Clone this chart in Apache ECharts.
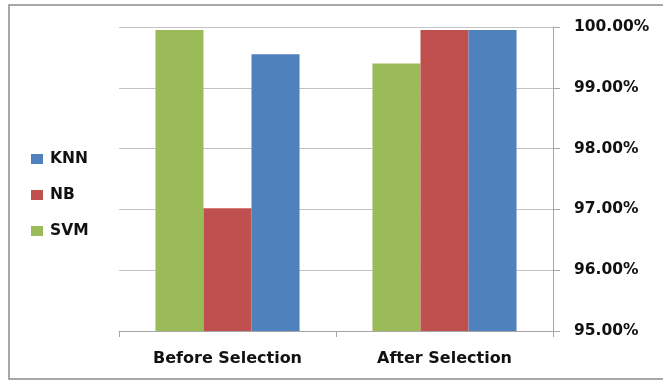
<!DOCTYPE html>
<html>
<head>
<meta charset="utf-8">
<script src="https://cdn.jsdelivr.net/npm/echarts@6/dist/echarts.min.js"></script>
<style>
  html, body { margin: 0; padding: 0; background: #ffffff; }
  #chart { width: 663px; height: 380px; }
</style>
</head>
<body>
<div id="chart"></div>
<script>
// Classification accuracy (%) before and after feature selection
const categories = ['Before Selection', 'After Selection'];
const svmValues = [99.95, 99.40];
const nbValues = [97.02, 99.95];
const knnValues = [99.55, 99.95];
const legendOrder = ['KNN', 'NB', 'SVM'];
const yTicks = { min: 95, max: 100, step: 1 };

const FONT = 'DejaVu Sans';
const chart = echarts.init(document.getElementById('chart'), null, { renderer: 'canvas' });

const barSeries = (name, data, color) => ({
  name: name,
  type: 'bar',
  data: data,
  barGap: '0%',
  barCategoryGap: '33.6%',
  itemStyle: { color: color },
  emphasis: { disabled: true },
  animation: false
});

chart.setOption({
  animation: false,
  backgroundColor: '#ffffff',
  graphic: [{
    type: 'rect',
    shape: { x: 9, y: 5, width: 720, height: 374 },
    style: { fill: 'none', stroke: '#8c8c8c', lineWidth: 1.5 },
    silent: true
  }],
  grid: { left: 119, right: 110, top: 27, bottom: 49, containLabel: false },
  legend: {
    data: legendOrder,
    orient: 'vertical',
    left: 31,
    top: 151,
    padding: 0,
    itemWidth: 12,
    itemHeight: 10,
    itemGap: 20,
    icon: 'rect',
    selectedMode: false,
    textStyle: { fontFamily: FONT, fontWeight: 'bold', fontSize: 15.5, lineHeight: 15, color: '#111111', padding: [0, 0, 0, 2] }
  },
  xAxis: {
    type: 'category',
    data: categories,
    boundaryGap: true,
    axisLine: { show: true, lineStyle: { color: '#a6a6a6', width: 1 } },
    axisTick: { show: true, alignWithLabel: false, length: 6, inside: false, lineStyle: { color: '#a6a6a6' } },
    axisLabel: { fontFamily: FONT, fontWeight: 'bold', fontSize: 16, color: '#111111', margin: 20 },
    splitLine: { show: false }
  },
  yAxis: {
    type: 'value',
    position: 'right',
    min: yTicks.min,
    max: yTicks.max,
    interval: yTicks.step,
    axisLine: { show: true, lineStyle: { color: '#a6a6a6', width: 1 } },
    axisTick: { show: true, length: 7, lineStyle: { color: '#a6a6a6' } },
    axisLabel: {
      fontFamily: FONT, fontWeight: 'bold', fontSize: 15.5, color: '#111111', margin: 21,
      formatter: v => v.toFixed(2) + '%'
    },
    splitLine: { show: true, lineStyle: { color: '#c4c4c4', width: 1 } }
  },
  series: [
    barSeries('SVM', svmValues, '#9bbb59'),
    barSeries('NB', nbValues, '#c0504d'),
    barSeries('KNN', knnValues, '#4f81bd')
  ]
});
</script>
</body>
</html>
